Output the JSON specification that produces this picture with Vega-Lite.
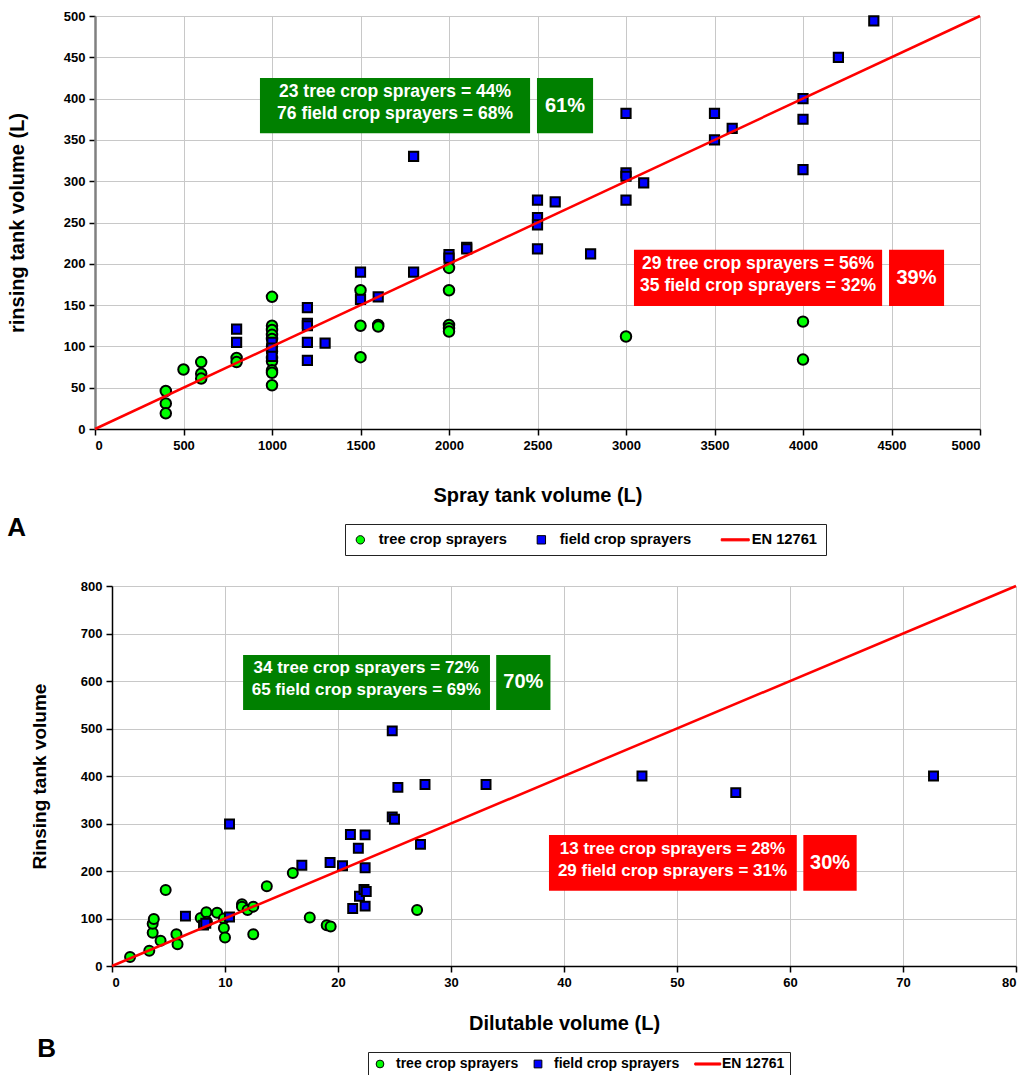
{
  "$schema": "https://vega.github.io/schema/vega-lite/v6.json",
  "background": "white",
  "padding": {"left": 6, "top": 10, "right": 0, "bottom": 0},
  "spacing": 24,
  "resolve": {
    "scale": {"x": "independent", "y": "independent", "fill": "independent", "stroke": "independent", "shape": "independent", "color": "independent"},
    "legend": {"fill": "independent", "stroke": "independent", "shape": "independent"}
  },
  "config": {
    "font": "Liberation Sans",
    "view": {"stroke": null},
    "axis": {
      "labelFont": "Liberation Sans", "labelFontWeight": "bold", "labelFontSize": 13, "labelColor": "#000",
      "titleFont": "Liberation Sans", "titleFontWeight": "bold", "titleFontSize": 20, "titleColor": "#000",
      "gridColor": "#c8c8c8", "gridWidth": 1, "domainColor": "#000", "domainWidth": 1.5,
      "tickColor": "#000", "tickSize": 6, "tickWidth": 1.5, "labelPadding": 4
    },
    "legend": {
      "orient": "none", "direction": "horizontal",
      "labelFont": "Liberation Sans", "labelFontWeight": "bold", "labelFontSize": 14.7, "labelColor": "#000",
      "strokeColor": "#222", "fillColor": "#fff", "padding": 8, "columnPadding": 27,
      "symbolStrokeWidth": 1, "symbolSize": 70, "labelOffset": 11
    }
  },
  "datasets": {
    "a_pts": [
      {"vol": 400, "rinse": 46, "type": "tree crop sprayers"},
      {"vol": 400, "rinse": 31, "type": "tree crop sprayers"},
      {"vol": 400, "rinse": 19, "type": "tree crop sprayers"},
      {"vol": 500, "rinse": 72, "type": "tree crop sprayers"},
      {"vol": 600, "rinse": 81, "type": "tree crop sprayers"},
      {"vol": 600, "rinse": 67, "type": "tree crop sprayers"},
      {"vol": 600, "rinse": 61, "type": "tree crop sprayers"},
      {"vol": 800, "rinse": 86, "type": "tree crop sprayers"},
      {"vol": 800, "rinse": 81, "type": "tree crop sprayers"},
      {"vol": 1000, "rinse": 160, "type": "tree crop sprayers"},
      {"vol": 1000, "rinse": 125, "type": "tree crop sprayers"},
      {"vol": 1000, "rinse": 120, "type": "tree crop sprayers"},
      {"vol": 1000, "rinse": 114, "type": "tree crop sprayers"},
      {"vol": 1000, "rinse": 109, "type": "tree crop sprayers"},
      {"vol": 1000, "rinse": 100, "type": "tree crop sprayers"},
      {"vol": 1000, "rinse": 94, "type": "tree crop sprayers"},
      {"vol": 1000, "rinse": 86, "type": "tree crop sprayers"},
      {"vol": 1000, "rinse": 82, "type": "tree crop sprayers"},
      {"vol": 1000, "rinse": 71, "type": "tree crop sprayers"},
      {"vol": 1000, "rinse": 68, "type": "tree crop sprayers"},
      {"vol": 1000, "rinse": 53, "type": "tree crop sprayers"},
      {"vol": 1500, "rinse": 168, "type": "tree crop sprayers"},
      {"vol": 1500, "rinse": 125, "type": "tree crop sprayers"},
      {"vol": 1500, "rinse": 87, "type": "tree crop sprayers"},
      {"vol": 1600, "rinse": 126, "type": "tree crop sprayers"},
      {"vol": 1600, "rinse": 124, "type": "tree crop sprayers"},
      {"vol": 2000, "rinse": 195, "type": "tree crop sprayers"},
      {"vol": 2000, "rinse": 168, "type": "tree crop sprayers"},
      {"vol": 2000, "rinse": 126, "type": "tree crop sprayers"},
      {"vol": 2000, "rinse": 122, "type": "tree crop sprayers"},
      {"vol": 2000, "rinse": 118, "type": "tree crop sprayers"},
      {"vol": 3000, "rinse": 112, "type": "tree crop sprayers"},
      {"vol": 4000, "rinse": 130, "type": "tree crop sprayers"},
      {"vol": 4000, "rinse": 84, "type": "tree crop sprayers"},
      {"vol": 800, "rinse": 121, "type": "field crop sprayers"},
      {"vol": 800, "rinse": 105, "type": "field crop sprayers"},
      {"vol": 1000, "rinse": 105, "type": "field crop sprayers"},
      {"vol": 1000, "rinse": 98, "type": "field crop sprayers"},
      {"vol": 1000, "rinse": 88, "type": "field crop sprayers"},
      {"vol": 1200, "rinse": 147, "type": "field crop sprayers"},
      {"vol": 1200, "rinse": 128, "type": "field crop sprayers"},
      {"vol": 1200, "rinse": 125, "type": "field crop sprayers"},
      {"vol": 1200, "rinse": 105, "type": "field crop sprayers"},
      {"vol": 1200, "rinse": 83, "type": "field crop sprayers"},
      {"vol": 1300, "rinse": 104, "type": "field crop sprayers"},
      {"vol": 1500, "rinse": 190, "type": "field crop sprayers"},
      {"vol": 1500, "rinse": 157, "type": "field crop sprayers"},
      {"vol": 1600, "rinse": 160, "type": "field crop sprayers"},
      {"vol": 1800, "rinse": 330, "type": "field crop sprayers"},
      {"vol": 1800, "rinse": 190, "type": "field crop sprayers"},
      {"vol": 2000, "rinse": 211, "type": "field crop sprayers"},
      {"vol": 2000, "rinse": 207, "type": "field crop sprayers"},
      {"vol": 2100, "rinse": 220, "type": "field crop sprayers"},
      {"vol": 2100, "rinse": 218, "type": "field crop sprayers"},
      {"vol": 2500, "rinse": 277, "type": "field crop sprayers"},
      {"vol": 2500, "rinse": 256, "type": "field crop sprayers"},
      {"vol": 2500, "rinse": 247, "type": "field crop sprayers"},
      {"vol": 2500, "rinse": 218, "type": "field crop sprayers"},
      {"vol": 2600, "rinse": 275, "type": "field crop sprayers"},
      {"vol": 2800, "rinse": 212, "type": "field crop sprayers"},
      {"vol": 3000, "rinse": 382, "type": "field crop sprayers"},
      {"vol": 3000, "rinse": 310, "type": "field crop sprayers"},
      {"vol": 3000, "rinse": 306, "type": "field crop sprayers"},
      {"vol": 3000, "rinse": 277, "type": "field crop sprayers"},
      {"vol": 3100, "rinse": 298, "type": "field crop sprayers"},
      {"vol": 3500, "rinse": 382, "type": "field crop sprayers"},
      {"vol": 3500, "rinse": 350, "type": "field crop sprayers"},
      {"vol": 3600, "rinse": 364, "type": "field crop sprayers"},
      {"vol": 4000, "rinse": 400, "type": "field crop sprayers"},
      {"vol": 4000, "rinse": 375, "type": "field crop sprayers"},
      {"vol": 4000, "rinse": 314, "type": "field crop sprayers"},
      {"vol": 4200, "rinse": 450, "type": "field crop sprayers"},
      {"vol": 4400, "rinse": 494, "type": "field crop sprayers"}
    ],
    "a_line": [
      {"vol": 0, "rinse": 0, "type": "EN 12761"},
      {"vol": 5000, "rinse": 500, "type": "EN 12761"}
    ],
    "a_boxes": [
      {"vol": 932, "vol2": 2458, "rinse": 358, "rinse2": 425, "grp": "above"},
      {"vol": 2497, "vol2": 2814, "rinse": 358, "rinse2": 425, "grp": "above"},
      {"vol": 3045, "vol2": 4447, "rinse": 149, "rinse2": 217, "grp": "below"},
      {"vol": 4486, "vol2": 4797, "rinse": 149, "rinse2": 217, "grp": "below"}
    ],
    "a_labels": [
      {"vol": 1695, "rinse": 391.5, "kind": "detail", "label": "23 tree crop sprayers = 44%\n76 field crop sprayers = 68%"},
      {"vol": 2655, "rinse": 391.5, "kind": "total", "label": "61%"},
      {"vol": 3746, "rinse": 183, "kind": "detail", "label": "29 tree crop sprayers = 56%\n35 field crop sprayers = 32%"},
      {"vol": 4641, "rinse": 183, "kind": "total", "label": "39%"}
    ],
    "b_pts": [
      {"vol": 1.6, "rinse": 19, "type": "tree crop sprayers"},
      {"vol": 3.3, "rinse": 32, "type": "tree crop sprayers"},
      {"vol": 3.6, "rinse": 70, "type": "tree crop sprayers"},
      {"vol": 3.6, "rinse": 89, "type": "tree crop sprayers"},
      {"vol": 3.7, "rinse": 99, "type": "tree crop sprayers"},
      {"vol": 4.3, "rinse": 53, "type": "tree crop sprayers"},
      {"vol": 4.75, "rinse": 160, "type": "tree crop sprayers"},
      {"vol": 5.7, "rinse": 67, "type": "tree crop sprayers"},
      {"vol": 5.8, "rinse": 46, "type": "tree crop sprayers"},
      {"vol": 7.85, "rinse": 101, "type": "tree crop sprayers"},
      {"vol": 8.35, "rinse": 113, "type": "tree crop sprayers"},
      {"vol": 8.4, "rinse": 93, "type": "tree crop sprayers"},
      {"vol": 9.3, "rinse": 112, "type": "tree crop sprayers"},
      {"vol": 9.9, "rinse": 100, "type": "tree crop sprayers"},
      {"vol": 9.9, "rinse": 80, "type": "tree crop sprayers"},
      {"vol": 10.0, "rinse": 60, "type": "tree crop sprayers"},
      {"vol": 11.5, "rinse": 130, "type": "tree crop sprayers"},
      {"vol": 11.5, "rinse": 125, "type": "tree crop sprayers"},
      {"vol": 12.0, "rinse": 118, "type": "tree crop sprayers"},
      {"vol": 12.5, "rinse": 125, "type": "tree crop sprayers"},
      {"vol": 12.5, "rinse": 67, "type": "tree crop sprayers"},
      {"vol": 13.7, "rinse": 168, "type": "tree crop sprayers"},
      {"vol": 16.0, "rinse": 196, "type": "tree crop sprayers"},
      {"vol": 17.5, "rinse": 102, "type": "tree crop sprayers"},
      {"vol": 19.0, "rinse": 86, "type": "tree crop sprayers"},
      {"vol": 19.35, "rinse": 83, "type": "tree crop sprayers"},
      {"vol": 27.0, "rinse": 118, "type": "tree crop sprayers"},
      {"vol": 6.5, "rinse": 105, "type": "field crop sprayers"},
      {"vol": 8.1, "rinse": 86, "type": "field crop sprayers"},
      {"vol": 8.3, "rinse": 90, "type": "field crop sprayers"},
      {"vol": 10.4, "rinse": 103, "type": "field crop sprayers"},
      {"vol": 10.4, "rinse": 299, "type": "field crop sprayers"},
      {"vol": 16.8, "rinse": 212, "type": "field crop sprayers"},
      {"vol": 19.3, "rinse": 218, "type": "field crop sprayers"},
      {"vol": 20.4, "rinse": 211, "type": "field crop sprayers"},
      {"vol": 21.1, "rinse": 277, "type": "field crop sprayers"},
      {"vol": 21.3, "rinse": 121, "type": "field crop sprayers"},
      {"vol": 21.8, "rinse": 248, "type": "field crop sprayers"},
      {"vol": 21.9, "rinse": 147, "type": "field crop sprayers"},
      {"vol": 22.3, "rinse": 161, "type": "field crop sprayers"},
      {"vol": 22.4, "rinse": 207, "type": "field crop sprayers"},
      {"vol": 22.4, "rinse": 276, "type": "field crop sprayers"},
      {"vol": 22.4, "rinse": 126, "type": "field crop sprayers"},
      {"vol": 22.5, "rinse": 157, "type": "field crop sprayers"},
      {"vol": 24.8, "rinse": 495, "type": "field crop sprayers"},
      {"vol": 24.8, "rinse": 314, "type": "field crop sprayers"},
      {"vol": 25.0, "rinse": 309, "type": "field crop sprayers"},
      {"vol": 25.3, "rinse": 376, "type": "field crop sprayers"},
      {"vol": 27.3, "rinse": 256, "type": "field crop sprayers"},
      {"vol": 27.7, "rinse": 382, "type": "field crop sprayers"},
      {"vol": 33.1, "rinse": 382, "type": "field crop sprayers"},
      {"vol": 46.9, "rinse": 400, "type": "field crop sprayers"},
      {"vol": 55.2, "rinse": 365, "type": "field crop sprayers"},
      {"vol": 72.7, "rinse": 400, "type": "field crop sprayers"}
    ],
    "b_line": [
      {"vol": 0, "rinse": 0, "type": "EN 12761"},
      {"vol": 80, "rinse": 800, "type": "EN 12761"}
    ],
    "b_boxes": [
      {"vol": 11.6, "vol2": 33.45, "rinse": 539, "rinse2": 655, "grp": "above"},
      {"vol": 34.0, "vol2": 38.8, "rinse": 539, "rinse2": 655, "grp": "above"},
      {"vol": 38.67, "vol2": 60.6, "rinse": 158.5, "rinse2": 276, "grp": "below"},
      {"vol": 61.18, "vol2": 65.9, "rinse": 158.5, "rinse2": 276, "grp": "below"}
    ],
    "b_labels": [
      {"vol": 22.5, "rinse": 597, "kind": "detail", "label": "34 tree crop sprayers = 72%\n65 field crop sprayers = 69%"},
      {"vol": 36.4, "rinse": 597, "kind": "total", "label": "70%"},
      {"vol": 49.6, "rinse": 217, "kind": "detail", "label": "13 tree crop sprayers = 28%\n29 field crop sprayers = 31%"},
      {"vol": 63.55, "rinse": 217, "kind": "total", "label": "30%"}
    ]
  },
  "vconcat": [
    {
      "spacing": 0,
      "resolve": {
        "scale": {"x": "independent", "y": "independent", "fill": "independent", "stroke": "independent", "shape": "independent", "color": "independent"},
        "legend": {"fill": "independent", "stroke": "independent", "shape": "independent"}
      },
      "hconcat": [
        {"width": 1, "height": 1, "data": {"values": []}, "mark": "point"},
        {
          "width": 885,
          "height": 413,
          "title": {"text": "A", "orient": "bottom", "anchor": "start", "frame": "bounds", "offset": -41, "fontSize": 26, "fontWeight": "bold", "font": "Liberation Sans", "color": "#000"},
          "encoding": {
            "x": {"field": "vol", "type": "quantitative", "scale": {"domain": [0, 5000], "nice": false},
                  "axis": {"title": "Spray tank volume (L)", "format": "d", "values": [0, 500, 1000, 1500, 2000, 2500, 3000, 3500, 4000, 4500, 5000], "titlePadding": 33}},
            "y": {"field": "rinse", "type": "quantitative", "scale": {"domain": [0, 500], "nice": false},
                  "axis": {"title": "rinsing tank volume (L)", "values": [0, 50, 100, 150, 200, 250, 300, 350, 400, 450, 500], "titlePadding": 36, "domainColor": "#808080", "domainWidth": 2.5}}
          },
          "layer": [
            {
              "data": {"name": "a_boxes"},
              "mark": {"type": "rect"},
              "encoding": {
                "x2": {"field": "vol2"},
                "y2": {"field": "rinse2"},
                "color": {"field": "grp", "type": "nominal", "scale": {"domain": ["above", "below"], "range": ["#008000", "#ff0000"]}, "legend": null}
              }
            },
            {
              "data": {"name": "a_labels"},
              "transform": [{"filter": "datum.kind === 'detail'"}],
              "mark": {"type": "text", "lineBreak": "\n", "fontSize": 17.5, "fontWeight": "bold", "font": "Liberation Sans", "color": "#fff", "lineHeight": 22, "baseline": "middle", "align": "center", "dy": -14},
              "encoding": {"text": {"field": "label"}}
            },
            {
              "data": {"name": "a_labels"},
              "transform": [{"filter": "datum.kind === 'total'"}],
              "mark": {"type": "text", "fontSize": 20, "fontWeight": "bold", "font": "Liberation Sans", "color": "#fff", "baseline": "middle", "align": "center"},
              "encoding": {"text": {"field": "label"}}
            },
            {
              "data": {"name": "a_pts"},
              "transform": [{"filter": "datum.type === 'tree crop sprayers'"}],
              "mark": {"type": "point", "filled": true, "size": 110, "opacity": 1},
              "encoding": {
                "fill": {"field": "type", "type": "nominal", "scale": {"domain": ["tree crop sprayers", "field crop sprayers", "EN 12761"], "range": ["#00ff00", "#0000ff", "#ff0000"]},
                         "legend": {"title": null, "legendX": 250, "legendY": 508}},
                "shape": {"field": "type", "type": "nominal", "scale": {"domain": ["tree crop sprayers", "field crop sprayers", "EN 12761"], "range": ["circle", "square", "M-2.9,-0.25H3.8V0.25H-2.9Z"]},
                          "legend": {"title": null, "legendX": 250, "legendY": 508}},
                "stroke": {"field": "type", "type": "nominal", "scale": {"domain": ["tree crop sprayers", "field crop sprayers", "EN 12761"], "range": ["#000000", "#000000", "#ff0000"]},
                           "legend": {"title": null, "legendX": 250, "legendY": 508}}
              }
            },
            {
              "data": {"name": "a_pts"},
              "transform": [{"filter": "datum.type === 'field crop sprayers'"}],
              "mark": {"type": "point", "filled": true, "size": 85, "opacity": 1},
              "encoding": {
                "fill": {"field": "type", "type": "nominal"},
                "shape": {"field": "type", "type": "nominal"},
                "stroke": {"field": "type", "type": "nominal"}
              }
            },
            {
              "data": {"name": "a_line"},
              "mark": {"type": "line", "strokeWidth": 2.5},
              "encoding": {"stroke": {"field": "type", "type": "nominal"}}
            }
          ]
        }
      ]
    },
    {
      "spacing": 0,
      "resolve": {
        "scale": {"x": "independent", "y": "independent", "fill": "independent", "stroke": "independent", "shape": "independent", "color": "independent"},
        "legend": {"fill": "independent", "stroke": "independent", "shape": "independent"}
      },
      "hconcat": [
        {"width": 1, "height": 1, "data": {"values": []}, "mark": "point"},
        {
          "width": 904,
          "height": 380,
          "title": {"text": "B", "orient": "bottom", "anchor": "start", "frame": "bounds", "offset": -41, "dx": 30, "fontSize": 26, "fontWeight": "bold", "font": "Liberation Sans", "color": "#000"},
          "encoding": {
            "x": {"field": "vol", "type": "quantitative", "scale": {"domain": [0, 80], "nice": false},
                  "axis": {"title": "Dilutable volume (L)", "values": [0, 10, 20, 30, 40, 50, 60, 70, 80], "titlePadding": 24}},
            "y": {"field": "rinse", "type": "quantitative", "scale": {"domain": [0, 800], "nice": false},
                  "axis": {"title": ["", "Rinsing tank volume"], "values": [0, 100, 200, 300, 400, 500, 600, 700, 800], "titlePadding": 31, "titleFontSize": 19, "titleLineHeight": 23}}
          },
          "layer": [
            {
              "data": {"name": "b_boxes"},
              "mark": {"type": "rect"},
              "encoding": {
                "x2": {"field": "vol2"},
                "y2": {"field": "rinse2"},
                "color": {"field": "grp", "type": "nominal", "scale": {"domain": ["above", "below"], "range": ["#008000", "#ff0000"]}, "legend": null}
              }
            },
            {
              "data": {"name": "b_labels"},
              "transform": [{"filter": "datum.kind === 'detail'"}],
              "mark": {"type": "text", "lineBreak": "\n", "fontSize": 17, "fontWeight": "bold", "font": "Liberation Sans", "color": "#fff", "lineHeight": 22, "baseline": "middle", "align": "center", "dy": -14},
              "encoding": {"text": {"field": "label"}}
            },
            {
              "data": {"name": "b_labels"},
              "transform": [{"filter": "datum.kind === 'total'"}],
              "mark": {"type": "text", "fontSize": 20, "fontWeight": "bold", "font": "Liberation Sans", "color": "#fff", "baseline": "middle", "align": "center"},
              "encoding": {"text": {"field": "label"}}
            },
            {
              "data": {"name": "b_pts"},
              "transform": [{"filter": "datum.type === 'tree crop sprayers'"}],
              "mark": {"type": "point", "filled": true, "size": 100, "opacity": 1},
              "encoding": {
                "fill": {"field": "type", "type": "nominal", "scale": {"domain": ["tree crop sprayers", "field crop sprayers", "EN 12761"], "range": ["#00ff00", "#0000ff", "#ff0000"]},
                         "legend": {"title": null, "legendX": 256, "legendY": 466, "labelFontSize": 14, "symbolSize": 60, "padding": 5, "columnPadding": 12, "labelOffset": 9}},
                "shape": {"field": "type", "type": "nominal", "scale": {"domain": ["tree crop sprayers", "field crop sprayers", "EN 12761"], "range": ["circle", "square", "M-2.9,-0.27H3.8V0.27H-2.9Z"]},
                          "legend": {"title": null, "legendX": 256, "legendY": 466, "labelFontSize": 14, "symbolSize": 60, "padding": 5, "columnPadding": 12, "labelOffset": 9}},
                "stroke": {"field": "type", "type": "nominal", "scale": {"domain": ["tree crop sprayers", "field crop sprayers", "EN 12761"], "range": ["#000000", "#000000", "#ff0000"]},
                           "legend": {"title": null, "legendX": 256, "legendY": 466, "labelFontSize": 14, "symbolSize": 60, "padding": 5, "columnPadding": 12, "labelOffset": 9}}
              }
            },
            {
              "data": {"name": "b_pts"},
              "transform": [{"filter": "datum.type === 'field crop sprayers'"}],
              "mark": {"type": "point", "filled": true, "size": 80, "opacity": 1},
              "encoding": {
                "fill": {"field": "type", "type": "nominal"},
                "shape": {"field": "type", "type": "nominal"},
                "stroke": {"field": "type", "type": "nominal"}
              }
            },
            {
              "data": {"name": "b_line"},
              "mark": {"type": "line", "strokeWidth": 2.5},
              "encoding": {"stroke": {"field": "type", "type": "nominal"}}
            }
          ]
        }
      ]
    }
  ]
}
